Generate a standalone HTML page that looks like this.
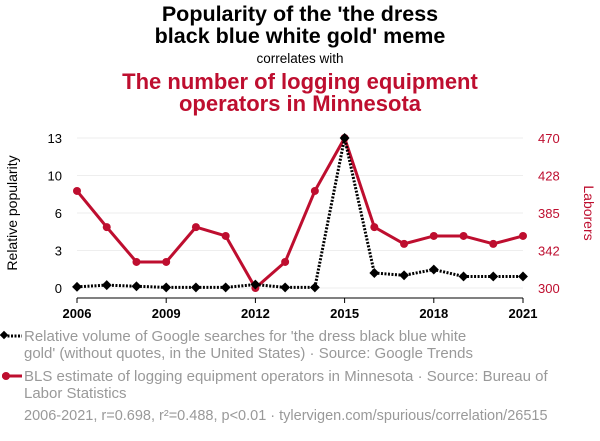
<!DOCTYPE html>
<html><head><meta charset="utf-8"><style>
body{margin:0;background:#fff;width:600px;height:436px;overflow:hidden;font-family:"Liberation Sans",sans-serif}
</style></head><body>
<svg width="600" height="436" xmlns="http://www.w3.org/2000/svg" font-family="Liberation Sans, sans-serif">
<text x="300" y="21" text-anchor="middle" font-size="21.5" font-weight="bold">Popularity of the 'the dress</text>
<text x="300" y="43" text-anchor="middle" font-size="21.5" font-weight="bold">black blue white gold' meme</text>
<text x="300" y="63" text-anchor="middle" font-size="13.5">correlates with</text>
<text x="300" y="89" text-anchor="middle" font-size="22" font-weight="bold" fill="#be0e2f">The number of logging equipment</text>
<text x="300" y="111" text-anchor="middle" font-size="22" font-weight="bold" fill="#be0e2f">operators in Minnesota</text>
<g id="grid"></g>
<g id="axes"></g>
<text transform="translate(17,213) rotate(-90)" text-anchor="middle" font-size="14">Relative popularity</text>
<text transform="translate(584,213) rotate(90)" text-anchor="middle" font-size="14" fill="#be0e2f">Laborers</text>
<g id="series"></g>
<g>
<line x1="4" y1="336" x2="22" y2="336" stroke="#000" stroke-width="3" stroke-dasharray="2,1.5"/>
<rect x="1" y="332" width="6" height="6" transform="rotate(45 4 335)" fill="#000"/>
<text x="24" y="341" font-size="15" fill="#999">Relative volume of Google searches for 'the dress black blue white</text>
<text x="24" y="358" font-size="15" fill="#999">gold' (without quotes, in the United States) · Source: Google Trends</text>
</g>
<g>
<line x1="2" y1="376" x2="22" y2="376" stroke="#be0e2f" stroke-width="3"/>
<circle cx="6" cy="376" r="4" fill="#be0e2f"/>
<text x="24" y="381" font-size="15" fill="#999">BLS estimate of logging equipment operators in Minnesota · Source: Bureau of</text>
<text x="24" y="398" font-size="15" fill="#999">Labor Statistics</text>
</g>
<text x="24" y="420" font-size="14.5" fill="#999">2006-2021, r=0.698, r²=0.488, p&lt;0.01 · tylervigen.com/spurious/correlation/26515</text>
</svg>
<script>
const years=[2006,2007,2008,2009,2010,2011,2012,2013,2014,2015,2016,2017,2018,2019,2020,2021];
const googleVals=[0.1,0.25,0.15,0.05,0.05,0.05,0.3,0.05,0.05,13,1.3,1.1,1.6,1.0,1.0,1.0];
const blsVals=[410,369,329.5,329.5,369,359,300,329.5,410,470,369,350,359,359,350,359];
const xTicks=[2006,2009,2012,2015,2018,2021];
const leftTicks=[0,3.25,6.5,9.75,13];
const leftLabels=["0","3","6","10","13"];
const rightTicks=[300,342.5,385,427.5,470];
const rightLabels=["300","342","385","428","470"];
const NS="http://www.w3.org/2000/svg";
const x=v=>77+(v-2006)*(523-77)/15;
const yl=v=>288-v*150/13;
const yr=v=>288-(v-300)*150/170;
function mk(t,a,p){const e=document.createElementNS(NS,t);for(const k in a)e.setAttribute(k,a[k]);p.appendChild(e);return e;}
const grid=document.getElementById('grid'),axes=document.getElementById('axes'),ser=document.getElementById('series');
leftTicks.forEach((t,i)=>{
 const g=mk('line',{x1:77,x2:523,y1:yl(t),y2:yl(t),stroke:'#eee'},grid);
 
 
 const l=mk('text',{x:62,y:yl(t)+5,'text-anchor':'end','font-size':13},axes);l.textContent=leftLabels[i];
 
 
});
rightTicks.forEach((t,i)=>{
 const l=mk('text',{x:538,y:yr(t)+5,'text-anchor':'start','font-size':13,fill:'#be0e2f'},axes);l.textContent=rightLabels[i];
 
 
});
xTicks.forEach(t=>{
 const tk=mk('line',{x1:x(t),x2:x(t),y1:298,y2:303,stroke:'#000'},axes);
 
 
 const l=mk('text',{x:x(t),y:318,'text-anchor':'middle','font-size':13,'font-weight':'bold'},axes);l.textContent=t;
 
 
});
const ax=mk('line',{x1:77,x2:523,y1:298,y2:298,stroke:'#000'},axes);


const rl=mk('polyline',{points:years.map((y,i)=>x(y)+','+yr(blsVals[i])).join(' '),fill:'none',stroke:'#be0e2f','stroke-width':3},ser);


years.forEach((y,i)=>{const c=mk('circle',{cx:x(y),cy:yr(blsVals[i]),r:4,fill:'#be0e2f'},ser);
 
 });
const bl=mk('polyline',{points:years.map((y,i)=>x(y)+','+yl(googleVals[i])).join(' '),fill:'none',stroke:'#000','stroke-width':3,'stroke-dasharray':'2,1.5'},ser);


years.forEach((y,i)=>{const cx=x(y),cy=yl(googleVals[i]);
 const r=mk('rect',{x:cx-3.5,y:cy-3.5,width:7,height:7,fill:'#000',transform:`rotate(45 ${cx} ${cy})`},ser);
 
 });
</script>
</body></html>
